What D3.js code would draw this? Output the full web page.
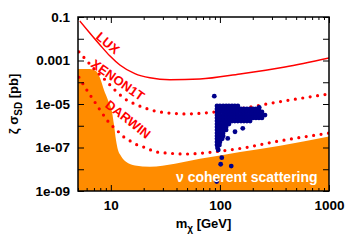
<!DOCTYPE html>
<html>
<head>
<meta charset="utf-8">
<script src="https://cdn.jsdelivr.net/npm/d3@7"></script>
<style>
body { margin: 0; background: #fff; }
text { font-family: "Liberation Sans", Arial, sans-serif; font-weight: bold; }
</style>
</head>
<body>
<div id="chart"></div>
<script>
// limits: [mass GeV, sigma pb]
let luxLimit = [[5.2, 0.065], [6.44, 0.018], [7.96, 5.2e-3], [9.83, 1.6e-3], [12.1, 6.2e-4], [16.6, 2.5e-4],
    [22.8, 1.6e-4], [34.8, 1.3e-4], [65.6, 1.4e-4], [153, 2.4e-4], [395, 5.0e-4], [1000, 1.3e-3]];

let xenonLimit = [[5.1, 2.5e-3], [6.05, 9.5e-4], [7.16, 3.7e-4], [8.84, 1.3e-4], [10.9, 4.4e-5], [13.5, 1.7e-5],
    [16.6, 1.0e-5], [20.6, 6.5e-6], [28.2, 4.3e-6], [49.9, 3.5e-6], [90.1, 4.3e-6], [163, 6.5e-6],
    [395, 1.4e-5], [1000, 2.9e-5]];

let darwinLimit = [[5.1, 1.7e-4], [5.79, 6.0e-5], [7.01, 1.4e-5], [8.3, 3.9e-6], [9.62, 1.4e-6], [11.3, 6.4e-7],
    [13.2, 3.0e-7], [15.6, 1.8e-7], [18.1, 1.2e-7], [21.5, 9.5e-8], [24.9, 6.5e-8], [34.8, 5.4e-8],
    [47.8, 5.0e-8], [65.6, 5.4e-8], [90.1, 6.4e-8], [163, 9.5e-8], [313, 1.8e-7], [1000, 4.6e-7]];

let neutrinoFloor = [[5, 4.1e-4], [6.44, 4.1e-4], [7.31, 3.3e-4], [7.96, 1.57e-4], [8.65, 4.4e-5], [9.42, 1.5e-5],
    [10.25, 4.3e-6], [10.69, 1.1e-6], [11.15, 2.2e-7], [11.63, 7.7e-8], [12.39, 4.1e-8], [13.77, 2.2e-8],
    [16.65, 1.5e-8], [22.85, 1.3e-8], [65.6, 3.0e-8], [153, 6.2e-8], [356, 1.2e-7], [1000, 3.2e-7]];

// model points: rows of [sigma, masses...]
let clusterRows = [
    [8.1e-6, [94, 100, 107, 114, 121, 129, 137, 146]],
    [5.9e-6, [94, 100, 107, 114, 121, 129, 137, 146, 156, 166, 177, 189, 201, 214, 228]],
    [4.3e-6, [94, 100, 107, 114, 121, 129, 137, 146, 156, 166, 177, 189, 201, 214, 228, 243]],
    [3.1e-6, [94, 100, 107, 114, 121, 129, 137, 146, 156, 166, 177, 189, 201, 214, 228, 243, 259]],
    [2.3e-6, [94, 100, 107, 114, 121, 129, 137, 146, 156, 166, 177, 189, 201, 214, 228, 243]],
    [1.65e-6, [94, 100, 107, 114, 121, 129, 137, 146, 156, 166, 177, 189]],
    [1.2e-6, [94, 100, 107, 114, 121]],
    [8.8e-7, [94, 100, 107, 114]],
    [6.4e-7, [94, 100, 107, 114]],
    [4.6e-7, [94, 100, 107]],
    [3.4e-7, [94, 100, 107]],
    [2.5e-7, [94, 100, 105]],
    [1.8e-7, [94, 100]],
    [1.3e-7, [94, 99]],
    [9.5e-8, [95]]
];
let outliers = [[88.8, 2.3e-5], [229, 7.0e-6], [137.5, 5.3e-7], [162, 7.6e-7], [118, 2.6e-7], [96.6, 7.7e-8],
    [104, 3.4e-8], [101.6, 1.7e-8], [127, 1.4e-8], [93.4, 2.7e-9]];

// label name, mass, sigma, angle
let curveLabels = [["LUX", 9.4, 6.4e-3, 40], ["XENON1T", 11.6, 1.27e-4, 35], ["DARWIN", 14.4, 2.0e-6, 38]];

let yTickValues = [1e-9, 1e-8, 1e-7, 1e-6, 1e-5, 1e-4, 1e-3, 1e-2, 0.1];
let yTickLabels = {"1e-9": "1e-09", "1e-7": "1e-07", "0.00001": "1e-05", "0.001": "0.001", "0.1": "0.1"};
let xMajor = [10, 100, 1000];
let xMinor = [5, 6, 7, 8, 9, 20, 30, 40, 50, 60, 70, 80, 90, 200, 300, 400, 500, 600, 700, 800, 900];

let width = 357, height = 250,
    pLeft = 78, pRight = 329, pTop = 17, pBottom = 191;

let x = d3.scaleLog().domain([5, 1000]).range([pLeft, pRight]);
let y = d3.scaleLog().domain([1e-9, 0.1]).range([pBottom, pTop]);

let svg = d3.select("#chart").append("svg")
    .attr("width", width)
    .attr("height", height);

svg.append("defs").append("clipPath").attr("id", "clip")
    .append("rect")
    .attr("x", pLeft).attr("y", pTop)
    .attr("width", pRight - pLeft).attr("height", pBottom - pTop);

let plot = svg.append("g").attr("clip-path", "url(#clip)");

let area = d3.area()
    .x(function(d) { return x(d[0]); })
    .y0(pBottom)
    .y1(function(d) { return y(d[1]); })
    .curve(d3.curveMonotoneX);

plot.append("path")
    .datum(neutrinoFloor)
    .attr("d", area)
    .attr("fill", "#ff8c00");

let line = d3.line()
    .x(function(d) { return x(d[0]); })
    .y(function(d) { return y(d[1]); })
    .curve(d3.curveMonotoneX);

plot.append("path")
    .datum(luxLimit)
    .attr("d", line)
    .attr("fill", "none")
    .attr("stroke", "#f00")
    .attr("stroke-width", 1.5);

[xenonLimit, darwinLimit].forEach(function(data) {
    plot.append("path")
        .datum(data)
        .attr("d", line)
        .attr("fill", "none")
        .attr("stroke", "#f00")
        .attr("stroke-width", 3.2)
        .attr("stroke-linecap", "round")
        .attr("stroke-dasharray", "0,7.5");
});

curveLabels.forEach(function(l) {
    svg.append("text")
        .attr("transform", "translate(" + x(l[1]) + "," + y(l[2]) + ") rotate(" + l[3] + ")")
        .attr("text-anchor", "middle")
        .attr("dy", "0.35em")
        .attr("fill", "#f00")
        .style("font-size", "13px")
        .text(l[0]);
});

svg.append("text")
    .attr("x", 176)
    .attr("y", 182)
    .attr("fill", "#fff")
    .style("font-size", "14px")
    .text("\u03bd coherent scattering");

let points = [];
clusterRows.forEach(function(r) {
    r[1].forEach(function(m) { points.push([m, r[0]]); });
});
points = points.concat(outliers);

plot.selectAll("circle")
    .data(points)
    .enter().append("circle")
    .attr("cx", function(d) { return x(d[0]); })
    .attr("cy", function(d) { return y(d[1]); })
    .attr("r", 2.4)
    .attr("fill", "#00008b");

// axes, ticks inward on all sides
function clean(g) {
    g.select(".domain").remove();
    g.selectAll("line").attr("stroke", "#000").attr("stroke-width", 1);
    g.selectAll("text").style("font-size", "13.5px").attr("fill", "#000");
}

svg.append("g")
    .attr("transform", "translate(0," + pBottom + ")")
    .call(d3.axisBottom(x).tickValues(xMajor).tickFormat(d3.format("d")).tickSizeInner(-6).tickSizeOuter(0).tickPadding(9))
    .call(clean);
svg.append("g")
    .attr("transform", "translate(0," + pBottom + ")")
    .call(d3.axisBottom(x).tickValues(xMinor).tickFormat("").tickSizeInner(-3).tickSizeOuter(0))
    .call(clean);
svg.append("g")
    .attr("transform", "translate(0," + pTop + ")")
    .call(d3.axisTop(x).tickValues(xMajor).tickFormat("").tickSizeInner(-6).tickSizeOuter(0))
    .call(clean);
svg.append("g")
    .attr("transform", "translate(0," + pTop + ")")
    .call(d3.axisTop(x).tickValues(xMinor).tickFormat("").tickSizeInner(-3).tickSizeOuter(0))
    .call(clean);

svg.append("g")
    .attr("transform", "translate(" + pLeft + ",0)")
    .call(d3.axisLeft(y).tickValues(yTickValues)
        .tickFormat(function(d) { return yTickLabels[String(d)] || ""; })
        .tickSizeInner(-6).tickSizeOuter(0).tickPadding(8))
    .call(clean);
svg.append("g")
    .attr("transform", "translate(" + pRight + ",0)")
    .call(d3.axisRight(y).tickValues(yTickValues).tickFormat("").tickSizeInner(-6).tickSizeOuter(0))
    .call(clean);

svg.append("rect")
    .attr("x", pLeft).attr("y", pTop)
    .attr("width", pRight - pLeft).attr("height", pBottom - pTop)
    .attr("fill", "none")
    .attr("stroke", "#000")
    .attr("stroke-width", 1.5);

// axis titles
let xt = svg.append("text")
    .attr("x", (pLeft + pRight) / 2)
    .attr("y", 228)
    .attr("text-anchor", "middle")
    .style("font-size", "13px");
xt.append("tspan").text("m");
xt.append("tspan").attr("dy", 4).style("font-size", "10px").text("\u03c7");
xt.append("tspan").attr("dy", -4).text(" [GeV]");

let yt = svg.append("text")
    .attr("transform", "translate(18," + (pTop + pBottom) / 2 + ") rotate(-90)")
    .attr("text-anchor", "middle")
    .style("font-size", "13px");
yt.append("tspan").text("\u03b6 \u03c3");
yt.append("tspan").attr("dy", 4).style("font-size", "10px").text("SD");
yt.append("tspan").attr("dy", -4).text(" [pb]");
</script>
</body>
</html>
